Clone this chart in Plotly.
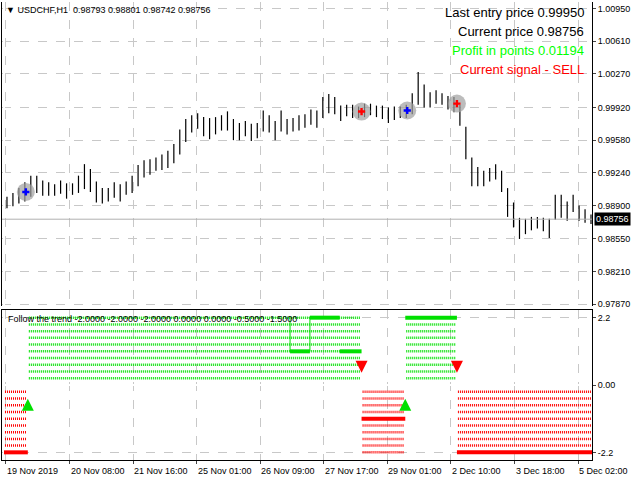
import plotly.graph_objects as go

closes = [0.9893,0.9896,0.9900,0.9904,0.9910,0.9912,0.9908,0.9907,0.9906,0.9909,0.9905,0.9907,0.9912,0.9920,0.9916,0.9904,0.9900,0.9901,0.9906,0.9903,0.9908,0.9912,0.9921,0.9928,0.9930,0.9933,0.9935,0.9938,0.9944,0.9956,0.9968,0.9975,0.9978,0.9972,0.9970,0.9973,0.9976,0.9978,0.9969,0.9967,0.9970,0.9966,0.9968,0.9978,0.9975,0.9968,0.9978,0.9972,0.9974,0.9976,0.9978,0.9982,0.9980,0.9992,0.9996,0.9994,0.9986,0.9989,0.9988,0.9987,0.9989,0.9990,0.9988,0.9987,0.9984,0.9986,0.9987,0.9988,0.9996,1.0012,1.0004,1.0000,1.0003,1.0001,0.9997,0.9995,0.9984,0.9955,0.9925,0.9920,0.9918,0.9922,0.9925,0.9915,0.9893,0.9880,0.9866,0.9868,0.9871,0.9872,0.9870,0.9866,0.9888,0.9889,0.9884,0.9892,0.9882,0.9879,0.98756]
spans = [12,14,16,20,22,18,16,14,12,14,16,12,18,26,24,22,16,14,16,18,14,18,22,18,16,14,16,18,20,26,24,18,16,20,22,18,16,20,22,18,16,18,16,22,18,20,22,16,14,16,14,16,18,22,20,18,16,12,14,12,14,12,12,14,16,14,12,14,22,34,24,16,14,12,14,16,22,34,30,20,16,14,16,22,30,26,22,16,14,12,14,20,26,24,20,18,16,14,10]
bars = [i * 3 + 1.5 for i in range(len(closes))]

sig_bars = [11, 180, 203, 228]
sig_prices = [0.99040, 0.99878, 0.99889, 0.99961]
sig_colors = ["blue", "red", "blue", "red"]

tick_bars = [1, 33, 65, 97, 129, 161, 193, 225, 257, 289]
tick_text = ["19 Nov 2019", "20 Nov 08:00", "21 Nov 16:00", "25 Nov 01:00", "26 Nov 09:00",
             "27 Nov 17:00", "29 Nov 01:00", "2 Dec 10:00", "3 Dec 18:00", "5 Dec 02:00"]
price_ticks = [1.00950, 1.00610, 1.00270, 0.99920, 0.99580, 0.99240, 0.98900, 0.98550, 0.98210, 0.97870]

regions = [(0, 12, -1), (12, 180, 1), (180, 202, -1), (202, 228, 1), (228, 296, -1)]
thick_segments = [(0, 12, -2.2, "red"), (144, 154, 1.1, "#00e000"),
                  (154, 169, 2.2, "#00e000"), (169, 180, 1.1, "#00e000"), (180, 202, -1.1, "red"),
                  (202, 228, 2.2, "#00e000"), (228, 296, -2.2, "red")]
arrows_up = [12, 202]
arrows_down = [180, 228]

fig = go.Figure()
bx, by = [], []
for b, c, s in zip(bars, closes, spans):
    bx += [b, b, None]
    by += [c - s * 0.00005, c + s * 0.00005, None]
fig.add_trace(go.Scatter(x=bx, y=by, mode="lines", xaxis="x", yaxis="y", line=dict(color="black", width=1.2)))
fig.add_trace(go.Scatter(x=sig_bars, y=sig_prices, mode="markers", xaxis="x", yaxis="y",
                         marker=dict(size=18, color="rgba(160,160,160,0.7)")))
fig.add_trace(go.Scatter(x=sig_bars, y=sig_prices, mode="markers", xaxis="x", yaxis="y",
                         marker=dict(size=6, color=sig_colors, symbol="cross")))
fig.add_trace(go.Scatter(x=[-1, 296], y=[closes[-1]] * 2, mode="lines", xaxis="x", yaxis="y",
                         line=dict(color="#b0b0b0", width=1)))

levels = [0.22 * k for k in range(1, 11)]
for s, e, sg in regions:
    col = "#00e000" if sg > 0 else "red"
    for lv in levels:
        fig.add_trace(go.Scatter(x=[s + 0.5, e - 0.5], y=[sg * lv, sg * lv], mode="lines", xaxis="x", yaxis="y2",
                                 line=dict(color=col, width=2.5, dash="1px,1px")))
for s, e, v, c in thick_segments:
    fig.add_trace(go.Scatter(x=[s, e], y=[v, v], mode="lines", xaxis="x", yaxis="y2",
                             line=dict(color=c, width=4)))
fig.add_trace(go.Scatter(x=[144, 144, 154, 154], y=[2.2, 1.1, 1.1, 2.2], mode="lines", xaxis="x", yaxis="y2",
                         line=dict(color="#00e000", width=1)))
fig.add_trace(go.Scatter(x=arrows_up, y=[-0.45] * 2, mode="markers", xaxis="x", yaxis="y2",
                         marker=dict(symbol="arrow-up", size=12, color="#00e000")))
fig.add_trace(go.Scatter(x=arrows_down, y=[0.4] * 2, mode="markers", xaxis="x", yaxis="y2",
                         marker=dict(symbol="arrow-down", size=12, color="red")))

grid = dict(showgrid=True, gridcolor="#c8c8c8", griddash="dash", gridwidth=1)
fig.update_layout(
    width=640, height=480, margin=dict(l=2, r=48, t=2, b=20),
    paper_bgcolor="white", plot_bgcolor="white", showlegend=False,
    font=dict(family="Liberation Sans", size=9, color="black"),
    xaxis=dict(range=[-1, 296], tickvals=tick_bars, ticktext=[""] * len(tick_bars), anchor="y2",
               ticks="outside", ticklen=3, showline=True, linecolor="black", mirror=True, **grid),
    yaxis=dict(domain=[0.336, 1], range=[0.9785, 1.0102], side="right", tickvals=price_ticks,
               tickformat=".5f", ticks="outside", ticklen=3, showline=True, linecolor="black", mirror=True,
               anchor="x", **grid),
    yaxis2=dict(domain=[0, 0.3275], range=[-2.45, 2.45], side="right", tickvals=[2.2, 0, -2.2],
                ticktext=["2.2", "0.00", "-2.2"], ticks="outside", ticklen=3, showline=True,
                linecolor="black", mirror=True, anchor="x", **grid),
)
for b, t in zip(tick_bars, tick_text):
    fig.add_annotation(xref="x", yref="paper", x=b, y=0, yshift=-4, text=t, showarrow=False,
                       xanchor="left", yanchor="top", xshift=-1, font=dict(size=9))
fig.add_annotation(xref="paper", yref="y", x=1.0, y=closes[-1], text="0.98756", showarrow=False, xanchor="left",
                   bgcolor="black", font=dict(color="white", size=9), xshift=2)
fig.add_annotation(xref="paper", yref="paper", x=0.0, y=1.0, text="▼ USDCHF,H1  0.98793 0.98801 0.98742 0.98756",
                   showarrow=False, xanchor="left", yanchor="top", font=dict(size=9), xshift=2, yshift=-1)
for i, (t, c) in enumerate([("Last entry price 0.99950", "black"), ("Current price 0.98756", "black"),
                            ("Profit in points 0.01194", "#00ff00"), ("Current signal - SELL", "red")]):
    fig.add_annotation(xref="paper", yref="paper", x=0.99, y=1.0, text=t, showarrow=False, xanchor="right",
                       yanchor="top", yshift=-1 - i * 19, font=dict(size=13, color=c, family="Liberation Sans"))
fig.add_annotation(xref="paper", yref="paper", x=0.0, y=0.3275, xshift=4, yshift=-2, xanchor="left", yanchor="top",
                   text="Follow the trend -2.0000 -2.0000 -2.0000 0.0000 0.0000 -0.5000 -1.5000",
                   showarrow=False, font=dict(size=9))
fig.write_html("out.html", config={"displayModeBar": False})
with open("out.html", encoding="utf-8") as f:
    html = f.read()
html = html.replace("<head>", "<head><style>html,body{margin:0;padding:0;overflow:hidden}</style>", 1)
with open("out.html", "w", encoding="utf-8") as f:
    f.write(html)
